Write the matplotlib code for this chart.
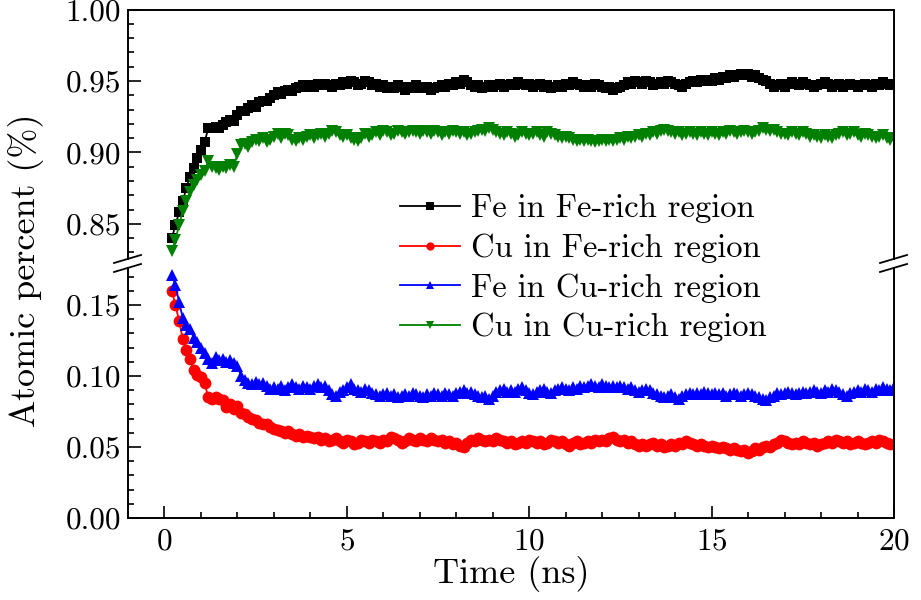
import matplotlib
matplotlib.use('Agg')
import matplotlib.pyplot as plt
import numpy as np
from matplotlib.lines import Line2D

plt.rcParams['font.family'] = 'serif'
plt.rcParams['font.serif'] = ['cmr10']
plt.rcParams['mathtext.fontset'] = 'cm'
plt.rcParams['axes.formatter.use_mathtext'] = True
plt.rcParams['axes.unicode_minus'] = False

# sampling times (ns)
time = np.round(np.arange(0.2, 20.01, 0.1), 1)

fe_fe = [0.840, 0.849, 0.858, 0.866, 0.875, 0.883, 0.889, 0.896,
         0.902, 0.907, 0.917, 0.917, 0.918, 0.917, 0.919, 0.921, 0.923, 0.922,
         0.926, 0.929, 0.929, 0.931, 0.933, 0.932, 0.935, 0.936, 0.936, 0.938,
         0.940, 0.942, 0.941, 0.943, 0.944, 0.943, 0.945, 0.946, 0.947, 0.946,
         0.947, 0.946, 0.948, 0.947, 0.948, 0.947, 0.946, 0.948, 0.947, 0.949,
         0.948, 0.950, 0.949, 0.947, 0.948, 0.950, 0.949, 0.947, 0.948, 0.946,
         0.947, 0.945, 0.946, 0.945, 0.947, 0.946, 0.944, 0.946, 0.945, 0.947,
         0.946, 0.945, 0.946, 0.944, 0.945, 0.946, 0.947, 0.946, 0.948, 0.947,
         0.949, 0.948, 0.951, 0.949, 0.947, 0.946, 0.947, 0.945, 0.946, 0.947,
         0.946, 0.947, 0.948, 0.946, 0.947, 0.948, 0.947, 0.949, 0.948, 0.947,
         0.948, 0.946, 0.947, 0.948, 0.946, 0.947, 0.945, 0.946, 0.947, 0.946,
         0.948, 0.947, 0.949, 0.948, 0.947, 0.946, 0.947, 0.946, 0.948, 0.947,
         0.946, 0.945, 0.946, 0.944, 0.945, 0.946, 0.947, 0.949, 0.948, 0.950,
         0.949, 0.948, 0.950, 0.949, 0.947, 0.948, 0.949, 0.948, 0.950, 0.949,
         0.948, 0.947, 0.946, 0.948, 0.949, 0.950, 0.949, 0.951, 0.950, 0.951,
         0.950, 0.952, 0.951, 0.953, 0.952, 0.954, 0.953, 0.954, 0.955, 0.954,
         0.955, 0.953, 0.954, 0.952, 0.951, 0.950, 0.948, 0.946, 0.947, 0.948,
         0.946, 0.948, 0.949, 0.948, 0.947, 0.949, 0.948, 0.947, 0.946, 0.947,
         0.948, 0.949, 0.948, 0.946, 0.947, 0.948, 0.946, 0.947, 0.948, 0.947,
         0.946, 0.947, 0.948, 0.947, 0.946, 0.948, 0.947, 0.949, 0.948, 0.947,
         0.948]

cu_fe = [0.160, 0.150, 0.139, 0.126, 0.118, 0.112, 0.104, 0.101,
         0.099, 0.095, 0.085, 0.084, 0.085, 0.084, 0.083, 0.078, 0.080, 0.077,
         0.079, 0.074, 0.073, 0.071, 0.070, 0.069, 0.067, 0.066, 0.066, 0.064,
         0.063, 0.062, 0.061, 0.060, 0.061, 0.059, 0.058, 0.059, 0.057, 0.058,
         0.057, 0.056, 0.057, 0.055, 0.056, 0.054, 0.055, 0.056, 0.054, 0.053,
         0.055, 0.054, 0.052, 0.053, 0.055, 0.054, 0.053, 0.055, 0.054, 0.053,
         0.055, 0.054, 0.057, 0.056, 0.055, 0.053, 0.054, 0.056, 0.055, 0.054,
         0.056, 0.055, 0.054, 0.056, 0.055, 0.054, 0.055, 0.053, 0.054, 0.052,
         0.053, 0.051, 0.050, 0.053, 0.055, 0.054, 0.056, 0.055, 0.054, 0.055,
         0.054, 0.056, 0.055, 0.054, 0.053, 0.054, 0.052, 0.053, 0.054, 0.053,
         0.055, 0.054, 0.053, 0.054, 0.052, 0.053, 0.055, 0.054, 0.053, 0.054,
         0.052, 0.051, 0.053, 0.054, 0.052, 0.053, 0.054, 0.053, 0.055, 0.054,
         0.055, 0.054, 0.056, 0.057, 0.055, 0.054, 0.055, 0.053, 0.054, 0.052,
         0.051, 0.052, 0.051, 0.052, 0.053, 0.051, 0.052, 0.050, 0.051, 0.052,
         0.051, 0.053, 0.052, 0.054, 0.053, 0.052, 0.051, 0.052, 0.051, 0.050,
         0.051, 0.050, 0.049, 0.050, 0.049, 0.048, 0.049, 0.048, 0.047, 0.048,
         0.046, 0.047, 0.049, 0.048, 0.050, 0.051, 0.050, 0.052, 0.053, 0.055,
         0.054, 0.053, 0.052, 0.053, 0.052, 0.054, 0.053, 0.052, 0.053, 0.051,
         0.052, 0.053, 0.054, 0.053, 0.055, 0.054, 0.053, 0.054, 0.052, 0.053,
         0.054, 0.053, 0.052, 0.053, 0.054, 0.053, 0.055, 0.054, 0.053, 0.052,
         0.052]

fe_cu = [0.171, 0.164, 0.152, 0.141, 0.136, 0.133, 0.127, 0.124,
         0.120, 0.116, 0.112, 0.109, 0.113, 0.111, 0.112, 0.110, 0.111, 0.109,
         0.107, 0.100, 0.097, 0.095, 0.094, 0.096, 0.094, 0.095, 0.093, 0.091,
         0.092, 0.091, 0.093, 0.090, 0.092, 0.094, 0.092, 0.091, 0.093, 0.092,
         0.091, 0.093, 0.094, 0.092, 0.093, 0.090, 0.087, 0.086, 0.089, 0.090,
         0.092, 0.094, 0.091, 0.090, 0.089, 0.091, 0.090, 0.088, 0.087, 0.086,
         0.087, 0.088, 0.086, 0.087, 0.085, 0.086, 0.087, 0.086, 0.088, 0.087,
         0.086, 0.085, 0.087, 0.086, 0.088, 0.087, 0.086, 0.088, 0.087, 0.086,
         0.088, 0.089, 0.090, 0.088, 0.089, 0.087, 0.086, 0.085, 0.086, 0.084,
         0.086, 0.089, 0.090, 0.091, 0.089, 0.090, 0.089, 0.091, 0.092, 0.090,
         0.088, 0.087, 0.089, 0.090, 0.091, 0.089, 0.088, 0.090, 0.091, 0.092,
         0.091, 0.090, 0.092, 0.091, 0.093, 0.092, 0.093, 0.094, 0.093, 0.092,
         0.094, 0.093, 0.092, 0.093, 0.092, 0.093, 0.092, 0.091, 0.092, 0.090,
         0.089, 0.090, 0.091, 0.090, 0.088, 0.087, 0.086, 0.085, 0.086, 0.087,
         0.085, 0.084, 0.086, 0.087, 0.088, 0.087, 0.088, 0.087, 0.089, 0.088,
         0.087, 0.088, 0.087, 0.088, 0.086, 0.087, 0.088, 0.087, 0.086, 0.087,
         0.088, 0.087, 0.086, 0.085, 0.084, 0.083, 0.085, 0.086, 0.088, 0.087,
         0.088, 0.089, 0.088, 0.087, 0.088, 0.089, 0.088, 0.089, 0.090, 0.089,
         0.088, 0.090, 0.089, 0.091, 0.090, 0.089, 0.087, 0.086, 0.088, 0.089,
         0.090, 0.089, 0.091, 0.090, 0.089, 0.091, 0.090, 0.092, 0.091, 0.090,
         0.092]

cu_cu = [0.831, 0.839, 0.849, 0.859, 0.866, 0.872, 0.877, 0.881,
         0.884, 0.887, 0.894, 0.890, 0.889, 0.888, 0.890, 0.889, 0.891, 0.890,
         0.899, 0.905, 0.906, 0.904, 0.907, 0.909, 0.908, 0.910, 0.907, 0.909,
         0.911, 0.913, 0.910, 0.913, 0.912, 0.909, 0.908, 0.910, 0.909, 0.911,
         0.912, 0.910, 0.912, 0.913, 0.911, 0.913, 0.915, 0.914, 0.912, 0.911,
         0.912, 0.910, 0.909, 0.908, 0.910, 0.913, 0.911, 0.912, 0.914, 0.912,
         0.915, 0.914, 0.912, 0.913, 0.915, 0.914, 0.913, 0.914, 0.915, 0.914,
         0.913, 0.915, 0.914, 0.913, 0.915, 0.914, 0.912, 0.914, 0.913, 0.915,
         0.914, 0.913, 0.914, 0.912, 0.913, 0.914, 0.915, 0.916, 0.915, 0.917,
         0.916, 0.914, 0.913, 0.912, 0.914, 0.913, 0.911, 0.912, 0.914, 0.913,
         0.912, 0.913, 0.914, 0.912, 0.911, 0.914, 0.913, 0.912, 0.911, 0.910,
         0.911, 0.910, 0.909, 0.908, 0.909, 0.908, 0.909, 0.908, 0.907, 0.908,
         0.909, 0.908, 0.909, 0.908, 0.909, 0.910, 0.909, 0.911, 0.910, 0.911,
         0.912, 0.911, 0.913, 0.912, 0.914, 0.913, 0.915, 0.916, 0.915, 0.914,
         0.913, 0.914, 0.912, 0.913, 0.914, 0.913, 0.912, 0.914, 0.913, 0.912,
         0.914, 0.913, 0.912, 0.914, 0.913, 0.915, 0.914, 0.913, 0.914, 0.915,
         0.914, 0.913, 0.914, 0.915, 0.917, 0.916, 0.915, 0.916, 0.914, 0.913,
         0.913, 0.912, 0.914, 0.913, 0.912, 0.914, 0.913, 0.911, 0.912, 0.911,
         0.910, 0.912, 0.911, 0.910, 0.912, 0.913, 0.914, 0.912, 0.913, 0.914,
         0.912, 0.911, 0.913, 0.912, 0.911, 0.910, 0.911, 0.912, 0.910, 0.909,
         0.910]

labels = ['Fe in Fe-rich region', 'Cu in Fe-rich region',
          'Fe in Cu-rich region', 'Cu in Cu-rich region']

W, H = 921, 600
fig = plt.figure(figsize=(W / 100, H / 100), dpi=100)
xl, xr = 128 / W, 894 / W
ax_top = fig.add_axes([xl, (H - 259) / H, xr - xl, (259 - 9.5) / H])
ax_bot = fig.add_axes([xl, (H - 518) / H, xr - xl, (518 - 268) / H])

kw = dict(lw=1.3, markeredgewidth=0)
h1, = ax_top.plot(time, fe_fe, color='black', marker='s', ms=7.5, **kw)
h4, = ax_top.plot(time, cu_cu, color='green', marker='v', ms=9, **kw)
h2, = ax_bot.plot(time, cu_fe, color='red', marker='o', ms=8.5, **kw)
h3, = ax_bot.plot(time, fe_cu, color='blue', marker='^', ms=9, **kw)

ax_top.set_ylim(0.8254, 1.0)
ax_bot.set_ylim(0.0, 0.176)
for ax in (ax_top, ax_bot):
    ax.set_xlim(-1, 20)
    for s in ax.spines.values():
        s.set_linewidth(1.4)
    ax.tick_params(direction='in', which='both', labelsize=22.5, width=1.2,
                   right=False, top=False, pad=5)
    ax.tick_params(which='major', length=9)
    ax.tick_params(which='minor', length=4.5)
    ax.yaxis.set_major_formatter(matplotlib.ticker.FormatStrFormatter('%.2f'))
    ax.yaxis.set_minor_locator(matplotlib.ticker.MultipleLocator(0.01))
    ax.xaxis.set_major_locator(matplotlib.ticker.MultipleLocator(5))
    ax.xaxis.set_minor_locator(matplotlib.ticker.MultipleLocator(1))

ax_top.set_yticks([0.85, 0.90, 0.95, 1.00])
ax_bot.set_yticks([0.00, 0.05, 0.10, 0.15])
ax_top.spines['bottom'].set_visible(False)
ax_bot.spines['top'].set_visible(False)
ax_top.tick_params(which='both', bottom=False, labelbottom=False)
ax_bot.tick_params(axis='x', pad=7)

ax_bot.set_xlabel('Time (ns)', fontsize=26, labelpad=0)
fig.text(26 / W, 1 - 270 / H, 'Atomic percent (%)', rotation=90,
         fontsize=26, ha='center', va='center')

# break marks
for sx in (128, 894):
    for y0 in (263, 272):
        fig.add_artist(Line2D([(sx - 14) / W, (sx + 13) / W],
                              [(H - y0) / H, (H - y0 + 8) / H],
                              color='black', lw=1.3, transform=fig.transFigure))

fig.legend([h1, h2, h3, h4], labels, loc='upper left',
           bbox_to_anchor=(371 / W, 1 - 165 / H), frameon=False, fontsize=23.5,
           markerscale=0.7, handlelength=1.84, handletextpad=0.31,
           labelspacing=0.31)

fig.savefig('out.png', dpi=100)
